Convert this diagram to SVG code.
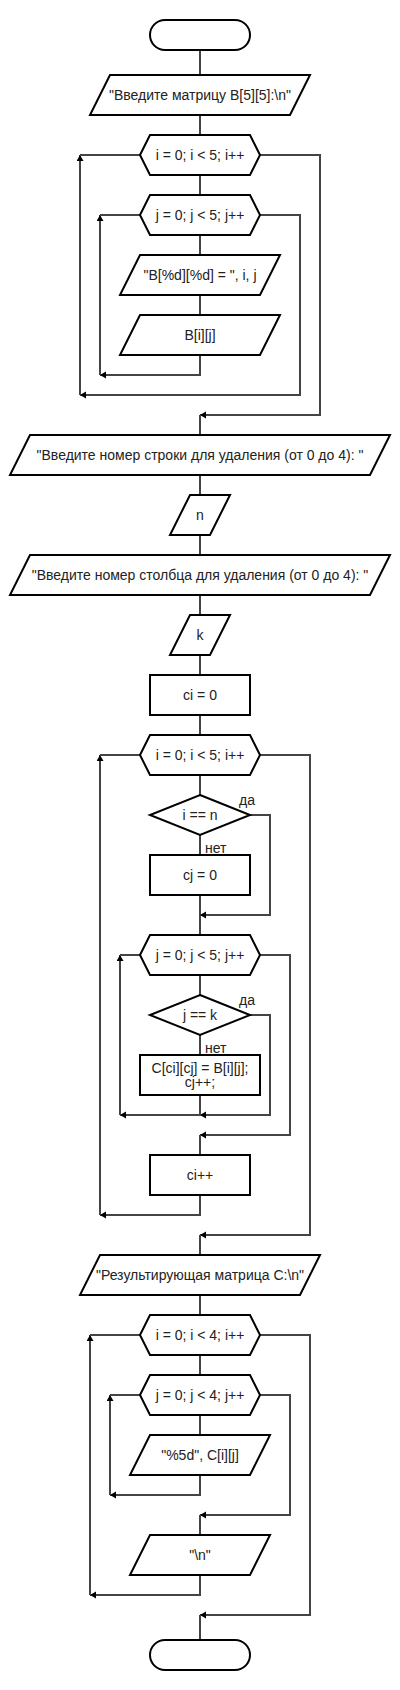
<svg xmlns="http://www.w3.org/2000/svg" width="400" height="1690" viewBox="0 0 400 1690">
<style>
.s{fill:#fff;stroke:#000;stroke-width:2}
.t{font-family:"Liberation Sans",Arial,sans-serif;font-size:14px;fill:#222;text-anchor:middle;dominant-baseline:central}
.l{font-family:"Liberation Sans",Arial,sans-serif;font-size:14px;fill:#222}
.c{fill:none;stroke:#444;stroke-width:2}
</style>
<defs>
<marker id="a" markerUnits="userSpaceOnUse" markerWidth="8" markerHeight="8" refX="6" refY="3.5" orient="auto">
<path d="M0,0 L6,3.5 L0,7 z" fill="#000"/>
</marker>
</defs>
<rect width="400" height="1690" fill="#fff"/>
<g id="connectors">
<path class="c" d="M200,50V75M200,115V135M200,175V195M200,235V255M200,295V315"/>
<path class="c" d="M200,355V375H100" marker-end="url(#a)"/>
<path class="c" d="M100,375V215" marker-end="url(#a)"/>
<path class="c" d="M100,215H140"/>
<path class="c" d="M260,215H300V395H80" marker-end="url(#a)"/>
<path class="c" d="M80,395V155" marker-end="url(#a)"/>
<path class="c" d="M80,155H140"/>
<path class="c" d="M260,155H320V415H200" marker-end="url(#a)"/>
<path class="c" d="M200,415V435M200,475V495M200,535V555M200,595V615M200,655V675M200,715V735M200,775V795M200,835V855M200,895V935M200,975V995M200,1035V1055"/>
<path class="c" d="M250,815H270V915H200" marker-end="url(#a)"/>
<path class="c" d="M250,1015H270V1115H200" marker-end="url(#a)"/>
<path class="c" d="M200,1095V1115H120" marker-end="url(#a)"/>
<path class="c" d="M120,1115V955" marker-end="url(#a)"/>
<path class="c" d="M120,955H140"/>
<path class="c" d="M260,955H290V1135H200" marker-end="url(#a)"/>
<path class="c" d="M200,1135V1155"/>
<path class="c" d="M200,1195V1215H100" marker-end="url(#a)"/>
<path class="c" d="M100,1215V755" marker-end="url(#a)"/>
<path class="c" d="M100,755H140"/>
<path class="c" d="M260,755H310V1235H200" marker-end="url(#a)"/>
<path class="c" d="M200,1235V1255M200,1295V1315M200,1355V1375M200,1415V1435"/>
<path class="c" d="M200,1475V1495H110" marker-end="url(#a)"/>
<path class="c" d="M110,1495V1395" marker-end="url(#a)"/>
<path class="c" d="M110,1395H140"/>
<path class="c" d="M260,1395H290V1515H200" marker-end="url(#a)"/>
<path class="c" d="M200,1515V1535"/>
<path class="c" d="M200,1575V1595H90" marker-end="url(#a)"/>
<path class="c" d="M90,1595V1335" marker-end="url(#a)"/>
<path class="c" d="M90,1335H140"/>
<path class="c" d="M260,1335H310V1615H200" marker-end="url(#a)"/>
<path class="c" d="M200,1615V1640"/>
<text class="l" x="239" y="805">да</text>
<text class="l" x="205" y="853">нет</text>
<text class="l" x="239" y="1005">да</text>
<text class="l" x="205" y="1053">нет</text>
</g>
<g id="start"><rect class="s" x="150" y="20" width="100" height="30" rx="15"/></g>
<g id="out1"><polygon class="s" points="110,75 310,75 290,115 90,115"/><text class="t" x="200" y="95">"Введите матрицу B[5][5]:\n"</text></g>
<g id="loopI1"><polygon class="s" points="140,155 150,135 250,135 260,155 250,175 150,175"/><text class="t" x="200" y="155">i = 0; i &lt; 5; i++</text></g>
<g id="loopJ1"><polygon class="s" points="140,215 150,195 250,195 260,215 250,235 150,235"/><text class="t" x="200" y="215">j = 0; j &lt; 5; j++</text></g>
<g id="out2"><polygon class="s" points="140,255 280,255 260,295 120,295"/><text class="t" x="200" y="275">"B[%d][%d] = ", i, j</text></g>
<g id="in1"><polygon class="s" points="140,315 280,315 260,355 120,355"/><text class="t" x="200" y="335">B[i][j]</text></g>
<g id="out3"><polygon class="s" points="30,435 390,435 370,475 10,475"/><text class="t" x="200" y="455">"Введите номер строки для удаления (от 0 до 4): "</text></g>
<g id="inN"><polygon class="s" points="190,495 230,495 210,535 170,535"/><text class="t" x="200" y="515">n</text></g>
<g id="out4"><polygon class="s" points="30,555 390,555 370,595 10,595"/><text class="t" x="200" y="575">"Введите номер столбца для удаления (от 0 до 4): "</text></g>
<g id="inK"><polygon class="s" points="190,615 230,615 210,655 170,655"/><text class="t" x="200" y="635">k</text></g>
<g id="ci0"><rect class="s" x="150" y="675" width="100" height="40"/><text class="t" x="200" y="695">ci = 0</text></g>
<g id="loopI2"><polygon class="s" points="140,755 150,735 250,735 260,755 250,775 150,775"/><text class="t" x="200" y="755">i = 0; i &lt; 5; i++</text></g>
<g id="ifI"><polygon class="s" points="200,795 250,815 200,835 150,815"/><text class="t" x="200" y="815">i == n</text></g>
<g id="cj0"><rect class="s" x="150" y="855" width="100" height="40"/><text class="t" x="200" y="875">cj = 0</text></g>
<g id="loopJ2"><polygon class="s" points="140,955 150,935 250,935 260,955 250,975 150,975"/><text class="t" x="200" y="955">j = 0; j &lt; 5; j++</text></g>
<g id="ifJ"><polygon class="s" points="200,995 250,1015 200,1035 150,1015"/><text class="t" x="200" y="1015">j == k</text></g>
<g id="assign"><rect class="s" x="140" y="1055" width="120" height="40"/><text class="t" x="200" y="1068">C[ci][cj] = B[i][j];</text><text class="t" x="200" y="1082">cj++;</text></g>
<g id="ciInc"><rect class="s" x="150" y="1155" width="100" height="40"/><text class="t" x="200" y="1175">ci++</text></g>
<g id="out5"><polygon class="s" points="100,1255 320,1255 300,1295 80,1295"/><text class="t" x="200" y="1275">"Результирующая матрица C:\n"</text></g>
<g id="loopI3"><polygon class="s" points="140,1335 150,1315 250,1315 260,1335 250,1355 150,1355"/><text class="t" x="200" y="1335">i = 0; i &lt; 4; i++</text></g>
<g id="loopJ3"><polygon class="s" points="140,1395 150,1375 250,1375 260,1395 250,1415 150,1415"/><text class="t" x="200" y="1395">j = 0; j &lt; 4; j++</text></g>
<g id="out6"><polygon class="s" points="150,1435 270,1435 250,1475 130,1475"/><text class="t" x="200" y="1455">"%5d", C[i][j]</text></g>
<g id="out7"><polygon class="s" points="150,1535 270,1535 250,1575 130,1575"/><text class="t" x="200" y="1555">"\n"</text></g>
<g id="end"><rect class="s" x="150" y="1640" width="100" height="30" rx="15"/></g>
</svg>
